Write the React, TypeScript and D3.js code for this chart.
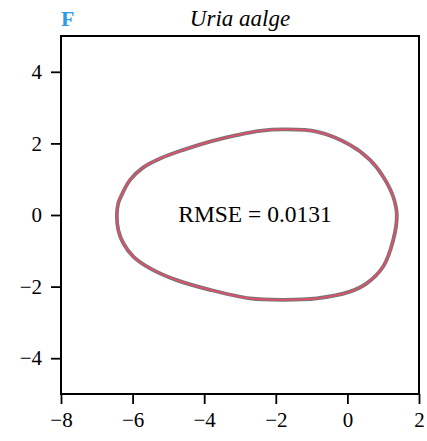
import React, { useEffect, useRef } from 'react';
import * as d3 from 'd3';

// outline points of the egg (x, y)
const outlineX = [-6.44, -6.40, -6.26, -6.07, -5.70, -5.23, -4.58, -3.84, -3.09, -2.44, -1.79, -0.86, 0.07, 0.63, 1.00, 1.28, 1.38,
    1.28, 1.00, 0.54, 0.07, -0.86, -1.79, -2.72, -3.84, -4.77, -5.51, -5.98, -6.26, -6.40];
const outlineY = [0.0, 0.33, 0.65, 0.98, 1.33, 1.58, 1.82, 2.05, 2.23, 2.35, 2.39, 2.33, 1.96, 1.54, 1.07, 0.51, 0.0,
    -0.70, -1.44, -1.91, -2.14, -2.33, -2.37, -2.33, -2.09, -1.82, -1.49, -1.16, -0.79, -0.42];

const xTicks = [-8, -6, -4, -2, 0, 2];
const yTicks = [-4, -2, 0, 2, 4];
const panelLabel = 'F';
const species = 'Uria aalge';
const rmseLabel = 'RMSE = 0.0131';

const W = 427;
const H = 441;

const App = () => {
    const ref = useRef<SVGSVGElement>(null);

    useEffect(() => {
        const svg = d3.select(ref.current);
        svg.selectAll('*').remove();

        const left = 61, right = 419, top = 36, bottom = 394;
        const font = 'Liberation Serif, DejaVu Serif, serif';

        const x = d3.scaleLinear().domain([-8, 2]).range([left, right]);
        const y = d3.scaleLinear().domain([-5, 5]).range([bottom, top]);

        const pts: [number, number][] = outlineX.map((v, i) => [v, outlineY[i]]);
        const line = d3.line<[number, number]>()
            .x(d => x(d[0]))
            .y(d => y(d[1]))
            .curve(d3.curveCatmullRomClosed.alpha(0.5));

        // measured outline (grey) and fitted curve (red)
        svg.append('path')
            .datum(pts)
            .attr('fill', 'none')
            .attr('stroke', '#767676')
            .attr('stroke-width', 3.8)
            .attr('d', line);

        svg.append('path')
            .datum(pts)
            .attr('fill', 'none')
            .attr('stroke', '#e0506c')
            .attr('stroke-width', 1.8)
            .attr('d', line);

        // axes
        const fmt = (d: any) => d3.format('d')(d as number).replace('-', '\u2212');
        const ax = svg.append('g')
            .attr('transform', 'translate(0,' + bottom + ')')
            .call(d3.axisBottom(x).tickValues(xTicks).tickSize(10).tickSizeOuter(0).tickPadding(8).tickFormat(fmt));
        const ay = svg.append('g')
            .attr('transform', 'translate(' + left + ',0)')
            .call(d3.axisLeft(y).tickValues(yTicks).tickSize(10).tickSizeOuter(0).tickPadding(9).tickFormat(fmt));
        [ax, ay].forEach(g => {
            g.attr('font-family', font).attr('font-size', 21);
            g.select('.domain').remove();
            g.selectAll('line').attr('stroke', '#000').attr('stroke-width', 1.8);
            g.selectAll('text').attr('fill', '#000');
        });

        // frame
        svg.append('rect')
            .attr('x', left).attr('y', top)
            .attr('width', right - left).attr('height', bottom - top)
            .attr('fill', 'none').attr('stroke', '#000').attr('stroke-width', 2);

        svg.append('text').attr('x', 61).attr('y', 26).text(panelLabel)
            .attr('font-family', font).attr('font-size', 22).attr('font-weight', 'bold').attr('fill', '#2b9be9');
        svg.append('text').attr('x', 240).attr('y', 26).text(species)
            .attr('font-family', font).attr('font-size', 23).attr('font-style', 'italic').attr('text-anchor', 'middle');
        svg.append('text').attr('x', x(-2.58)).attr('y', 222).text(rmseLabel)
            .attr('font-family', font).attr('font-size', 23.5).attr('text-anchor', 'middle');
    }, []);

    return (
        <svg ref={ref} width={W} height={H} style={{ position: 'absolute', left: 0, top: 0, background: '#fff' }} />
    );
};

export default App;
